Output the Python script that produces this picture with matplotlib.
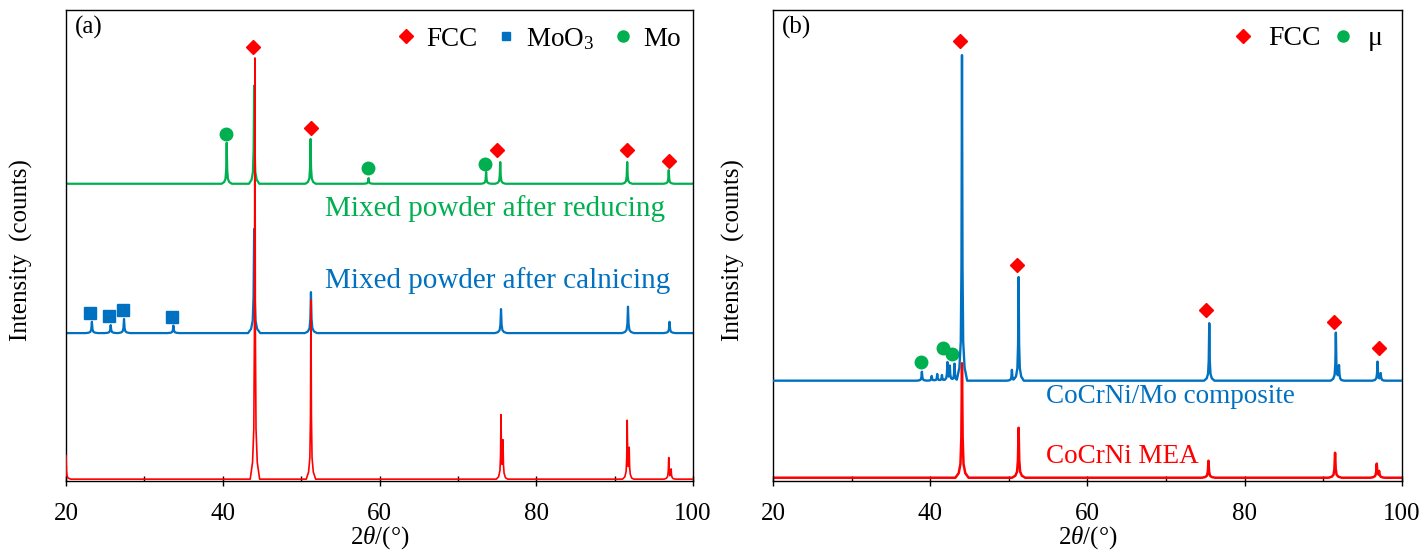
import matplotlib.pyplot as plt
import numpy as np
from matplotlib.lines import Line2D
from matplotlib.ticker import MultipleLocator

plt.rcParams['font.family'] = ['Liberation Serif', 'DejaVu Serif']
plt.rcParams['mathtext.fontset'] = 'custom'
plt.rcParams['mathtext.rm'] = 'Liberation Serif'
plt.rcParams['mathtext.it'] = 'Liberation Serif:italic'

RED = '#FF0000'
BLUE = '#0070C0'
GREEN = '#00B050'

# ---- panel (a): peak positions (2theta) and heights above baseline (offset units)
red_a_base = 0.4
red_a_pk = [20.0, 44.1, 51.25, 75.5, 75.75, 91.6, 91.85, 96.9, 97.2]
red_a_h = [5.0, 89.4, 38.0, 13.2, 7.5, 12.1, 6.0, 4.5, 2.0]

blue_a_base = 31.4
blue_a_pk = [23.3, 25.7, 27.4, 33.7, 44.0, 51.25, 75.5, 91.7, 97.0]
blue_a_h = [2.4, 1.7, 3.0, 1.6, 22.1, 8.7, 5.1, 5.6, 2.4]

green_a_base = 63.1
green_a_pk = [40.5, 44.0, 51.2, 58.6, 73.6, 75.4, 91.6, 96.9]
green_a_h = [8.7, 20.8, 9.5, 1.2, 2.5, 4.6, 4.6, 2.9]

fcc_a_x = [43.9, 51.2, 75.0, 91.6, 96.9]
fcc_a_y = [92.1, 75.0, 70.3, 70.3, 68.0]
moo3_a_x = [23.1, 25.5, 27.3, 33.5]
moo3_a_y = [35.6, 35.1, 36.3, 34.8]
mo_a_x = [40.4, 58.5, 73.5]
mo_a_y = [73.7, 66.5, 67.3]

# ---- panel (b)
red_b_base = 0.7
red_b_pk = [44.05, 51.25, 75.4, 91.5, 96.8, 97.1]
red_b_h = [24.3, 10.6, 3.6, 5.3, 2.9, 1.2]

blue_b_base = 21.3
blue_b_pk = [38.95, 40.2, 40.9, 41.5, 42.2, 42.5, 43.1, 44.05,
             50.4, 51.25, 75.5, 91.6, 92.0, 96.9, 97.3]
blue_b_h = [1.9, 1.0, 1.4, 1.2, 3.8, 3.0, 3.6, 69.1,
            2.3, 22.0, 12.2, 10.1, 3.0, 4.0, 1.5]

fcc_b_x = [43.8, 51.0, 75.1, 91.4, 97.1]
fcc_b_y = [93.4, 45.9, 36.3, 33.8, 28.2]
mu_b_x = [38.9, 41.6, 42.8]
mu_b_y = [25.3, 28.2, 27.0]

# peak profile template (relative offsets / fraction of height)
PROF_DX = np.array([-3, -1.5, -0.7, -0.3, 0, 0.3, 0.7, 1.5, 3])
PROF_FR = np.array([0, 0.04, 0.12, 0.35, 1, 0.35, 0.12, 0.04, 0])


def pattern(base, pk, h, w):
    xs = [20.0, 100.0]
    for p in pk:
        xs.extend(p + PROF_DX * w)
    xs = np.unique(np.clip(xs, 20, 100))
    ys = np.full_like(xs, base)
    for p, hh in zip(pk, h):
        ys += np.interp(xs, p + PROF_DX * w, hh * PROF_FR, left=0, right=0)
    return xs, ys


def style_axis(ax, tag):
    ax.set_xlim(20, 100)
    ax.set_ylim(0, 100)
    ax.set_yticks([])
    ax.xaxis.set_major_locator(MultipleLocator(20))
    ax.xaxis.set_minor_locator(MultipleLocator(10))
    ax.tick_params(axis='x', which='major', direction='inout', length=7,
                   width=1, labelsize=18, pad=12)
    ax.tick_params(axis='x', which='minor', direction='in', length=3.5, width=1)
    for s in ax.spines.values():
        s.set_linewidth(1.0)
    ax.set_xlabel('2$\\theta$/(°)', fontsize=18, labelpad=0)
    ax.set_ylabel('Intensity  (counts)', fontsize=18)
    ax.text(0.014, 0.988, tag, transform=ax.transAxes, fontsize=18,
            ha='left', va='top')


fig = plt.figure(figsize=(14.26, 5.51), dpi=100)
ax1 = fig.add_axes([0.0463, 0.127, 0.4397, 0.855])
ax2 = fig.add_axes([0.542, 0.127, 0.4411, 0.855])

# (a)
x, y = pattern(green_a_base, green_a_pk, green_a_h, 0.22)
ax1.plot(x, y, color=GREEN, lw=1.6, zorder=2)
x, y = pattern(blue_a_base, blue_a_pk, blue_a_h, 0.26)
ax1.plot(x, y, color=BLUE, lw=1.6, zorder=2)
x, y = pattern(red_a_base, red_a_pk, red_a_h, 0.2)
ax1.plot(x, y, color=RED, lw=1.2, zorder=3)
ax1.plot(fcc_a_x, fcc_a_y, 'D', color=RED, ms=7, ls='none')
ax1.plot(moo3_a_x, moo3_a_y, 's', color=BLUE, ms=8, ls='none')
ax1.plot(mo_a_x, mo_a_y, 'o', color=GREEN, ms=9, ls='none')
ax1.text(53.0, 57.8, 'Mixed powder after reducing', color=GREEN,
         fontsize=21, va='center')
ax1.text(53.0, 42.5, 'Mixed powder after calnicing', color=BLUE,
         fontsize=21, va='center')
style_axis(ax1, '(a)')
ax1.yaxis.set_label_coords(-0.052, 0.49)
h_a = [Line2D([], [], marker='D', color=RED, ls='none', ms=7),
       Line2D([], [], marker='s', color=BLUE, ls='none', ms=6),
       Line2D([], [], marker='o', color=GREEN, ls='none', ms=8)]
ax1.legend(h_a, ['FCC', 'MoO$_3$', 'Mo'], ncol=3, loc='upper right',
           bbox_to_anchor=(0.98, 0.966), frameon=False, fontsize=19.5,
           borderpad=0, borderaxespad=0, handlelength=0.8,
           handletextpad=0.35, columnspacing=0.65)

# (b)
x, y = pattern(red_b_base, red_b_pk, red_b_h, 0.28)
ax2.plot(x, y, color=RED, lw=1.8, zorder=2)
x, y = pattern(blue_b_base, blue_b_pk, blue_b_h, 0.22)
ax2.plot(x, y, color=BLUE, lw=1.7, zorder=3)
ax2.plot(fcc_b_x, fcc_b_y, 'D', color=RED, ms=7, ls='none')
ax2.plot(mu_b_x, mu_b_y, 'o', color=GREEN, ms=9, ls='none')
ax2.text(54.7, 18.0, 'CoCrNi/Mo composite', color=BLUE, fontsize=19.5,
         va='center')
ax2.text(54.7, 5.1, 'CoCrNi MEA', color=RED, fontsize=19.5, va='center')
style_axis(ax2, '(b)')
ax2.yaxis.set_label_coords(-0.044, 0.49)
h_b = [Line2D([], [], marker='D', color=RED, ls='none', ms=7),
       Line2D([], [], marker='o', color=GREEN, ls='none', ms=8)]
ax2.legend(h_b, ['FCC', 'μ'], ncol=2, loc='upper right',
           bbox_to_anchor=(0.97, 0.966), frameon=False, fontsize=20,
           borderpad=0, borderaxespad=0, handlelength=0.8,
           handletextpad=0.5, columnspacing=0.4)

fig.savefig('out.png', dpi=100)
